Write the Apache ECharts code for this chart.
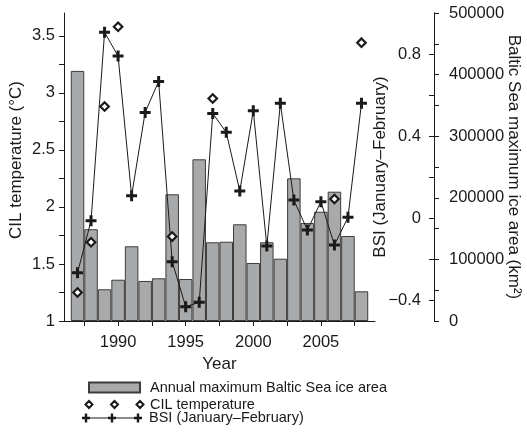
<!DOCTYPE html>
<html>
<head>
<meta charset="utf-8">
<script src="https://cdn.jsdelivr.net/npm/echarts@6/dist/echarts.min.js"></script>
<style>
  html, body { margin: 0; padding: 0; background: #fff; }
  #chart { width: 527px; height: 434px; }
</style>
</head>
<body>
<div id="chart"></div>
<script>
// years on the x axis
var years = [1987, 1988, 1989, 1990, 1991, 1992, 1993, 1994, 1995, 1996, 1997,
  1998, 1999, 2000, 2001, 2002, 2003, 2004, 2005, 2006, 2007, 2008]
// annual maximum Baltic Sea ice area (km2)
var iceArea = [406000, 149000, 51500, 67000, 121300, 65000, 69300, 205700, 68200, 262500, 127800,
  128700, 157000, 94200, 127800, 101100, 231600, 159000, 177400, 209900, 138000, 48200]
// CIL temperature (°C), null = no value
var cilTemp = [1.25, 1.69, 2.88, 3.58, null, null, null, 1.74, null, null, 2.95,
  null, null, null, null, null, null, null, null, 2.07, null, 3.44]
// BSI (January-February)
var bsi = [-0.265, -0.012, 0.906, 0.79, 0.11, 0.516, 0.667, -0.211, -0.43, -0.409, 0.511,
  0.419, 0.133, 0.524, -0.135, 0.56, 0.089, -0.057, 0.081, -0.13, 0.005, 0.56]

// ticks and labels
var xTicks = [1987.5, 1990, 1992.5, 1995, 1997.5, 2000, 2002.5, 2005, 2007.5]
var xLabels = [1990, 1995, 2000, 2005]
var cilTicks = [1, 1.25, 1.5, 1.75, 2, 2.25, 2.5, 2.75, 3, 3.25, 3.5]
var cilLabels = [1, 1.5, 2, 2.5, 3, 3.5]
var bsiTicks = [-0.4, -0.2, 0, 0.2, 0.4, 0.6, 0.8]
var bsiLabels = [-0.4, 0, 0.4, 0.8]
var iceTicks = [0, 50000, 100000, 150000, 200000, 250000, 300000, 350000, 400000, 450000, 500000]
var iceLabels = [0, 100000, 200000, 300000, 400000, 500000]

var FONT = '"Liberation Sans", Arial, Helvetica, sans-serif'
var INK = '#1a1a1a'
var PLUS = 'path://M4,0h3v4h4v3h-4v4h-3v-4h-4v-3h4z'
var DIAMONDS3 = 'path://M0,3.5L3.5,0L7,3.5L3.5,7Z M25.5,3.5L29,0L32.5,3.5L29,7Z M51,3.5L54.5,0L58,3.5L54.5,7Z'
var PLUSLINE = 'path://M0,4h60v1h-60z' +
  'M2.8,0h2.4v3.3h2.8v2.4h-2.8v3.3h-2.4v-3.3h-2.8v-2.4h2.8z' +
  'M28.8,0h2.4v3.3h2.8v2.4h-2.8v3.3h-2.4v-3.3h-2.8v-2.4h2.8z' +
  'M54.8,0h2.4v3.3h2.8v2.4h-2.8v3.3h-2.4v-3.3h-2.8v-2.4h2.8z'

function pairs(vals) {
  var out = []
  for (var i = 0; i < years.length; i++) {
    if (vals[i] != null) out.push([years[i], vals[i]])
  }
  return out
}

var axisLine = { show: true, onZero: false, lineStyle: { color: INK, width: 1 } }
var labelStyle = { color: INK, fontSize: 16.5, fontFamily: FONT }
var nameStyle = { color: INK, fontSize: 17, fontFamily: FONT }
var legendText = { color: INK, fontSize: 14.5, fontFamily: FONT }

var chart = echarts.init(document.getElementById('chart'), null, { renderer: 'canvas' })
chart.setOption({
  animation: false,
  backgroundColor: '#fff',
  grid: { left: 64, right: 152, top: 13, bottom: 113, containLabel: false, outerBoundsMode: 'none' },
  xAxis: {
    type: 'value',
    min: 1986,
    max: 2009,
    axisLine: axisLine,
    splitLine: { show: false },
    axisTick: { show: true, length: 5, lineStyle: { color: INK }, customValues: xTicks },
    axisLabel: Object.assign({ margin: 13, customValues: xLabels, formatter: function (v) { return String(v) } }, labelStyle),
    name: 'Year',
    nameLocation: 'middle',
    nameGap: 35,
    nameMoveOverlap: false,
    nameTextStyle: nameStyle
  },
  yAxis: [{
    type: 'value',
    position: 'left',
    min: 1,
    max: 3.7,
    axisLine: axisLine,
    splitLine: { show: false },
    axisTick: { show: true, length: 5, lineStyle: { color: INK }, customValues: cilTicks },
    axisLabel: Object.assign({ margin: 9, customValues: cilLabels }, labelStyle),
    name: 'CIL temperature (°C)',
    nameLocation: 'middle',
    nameGap: 39,
    nameMoveOverlap: false,
    nameTextStyle: Object.assign({ padding: [0, 0, 0, 14] }, nameStyle)
  }, {
    type: 'value',
    position: 'right',
    offset: 59,
    min: -0.5,
    max: 1,
    axisLine: axisLine,
    splitLine: { show: false },
    axisTick: { show: true, inside: true, length: 5, lineStyle: { color: INK }, customValues: bsiTicks },
    axisLabel: Object.assign({
      inside: true, margin: 13, customValues: bsiLabels,
      formatter: function (v) { return String(v).replace('-', '\u2212') }
    }, labelStyle),
    name: 'BSI (January–February)',
    nameLocation: 'middle',
    nameGap: -62,
    nameMoveOverlap: false,
    nameTextStyle: nameStyle
  }, {
    type: 'value',
    position: 'right',
    offset: 59,
    min: 0,
    max: 500000,
    axisLine: axisLine,
    splitLine: { show: false },
    axisTick: { show: true, length: 5, lineStyle: { color: INK }, customValues: iceTicks },
    axisLabel: Object.assign({ margin: 15, customValues: iceLabels, formatter: function (v) { return String(v) } }, labelStyle),
    name: 'Baltic Sea maximum ice area (km²)',
    nameLocation: 'middle',
    nameRotate: -90,
    nameGap: 71,
    nameMoveOverlap: false,
    nameTextStyle: nameStyle
  }],
  legend: [{
    data: ['Annual maximum Baltic Sea ice area'],
    left: 88, top: 380, padding: 0,
    itemWidth: 51, itemHeight: 10, icon: 'rect',
    selectedMode: false,
    textStyle: Object.assign({ padding: [0, 0, 0, 5] }, legendText)
  }, {
    data: ['CIL temperature'],
    left: 84.5, top: 397, padding: 0,
    itemWidth: 58, itemHeight: 7, icon: DIAMONDS3,
    itemStyle: { color: '#fff', borderColor: INK, borderWidth: 2 },
    selectedMode: false,
    textStyle: Object.assign({ padding: [0, 0, 0, 1.5] }, legendText)
  }, {
    data: ['BSI (January–February)'],
    left: 82, top: 410.5, padding: 0,
    itemWidth: 60, itemHeight: 9, icon: PLUSLINE,
    itemStyle: { color: INK, borderWidth: 0 },
    selectedMode: false,
    textStyle: Object.assign({ padding: [0, 0, 0, 2] }, legendText)
  }],
  series: [{
    name: 'Annual maximum Baltic Sea ice area',
    type: 'bar',
    yAxisIndex: 2,
    barWidth: 13.5,
    itemStyle: { color: '#a8a9ab', borderColor: '#3c3c3c', borderWidth: 1 },
    data: pairs(iceArea),
    z: 1
  }, {
    name: 'BSI (January–February)',
    type: 'line',
    yAxisIndex: 1,
    symbol: PLUS,
    symbolSize: 11,
    showAllSymbol: true,
    lineStyle: { color: INK, width: 1 },
    itemStyle: { color: INK, borderWidth: 0 },
    data: pairs(bsi),
    z: 3
  }, {
    name: 'CIL temperature',
    type: 'scatter',
    yAxisIndex: 0,
    symbol: 'diamond',
    symbolSize: 8.5,
    itemStyle: { color: '#fff', borderColor: INK, borderWidth: 2.2, opacity: 1 },
    data: pairs(cilTemp),
    z: 4
  }]
})
</script>
</body>
</html>
